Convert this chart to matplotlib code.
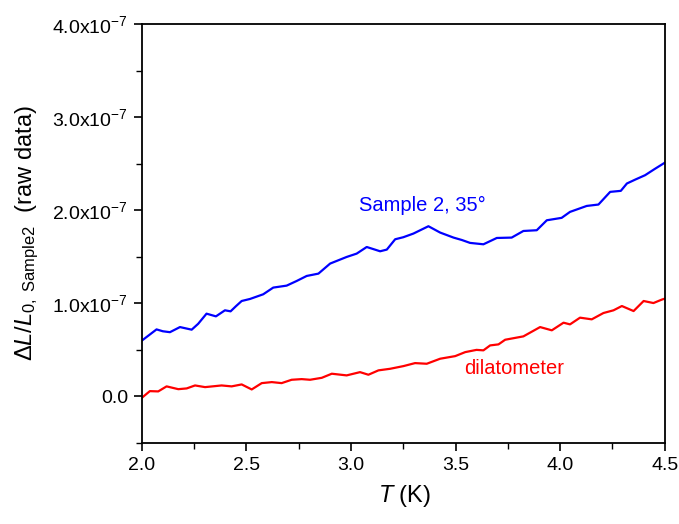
import matplotlib
matplotlib.use("Agg")
import matplotlib.pyplot as plt
from matplotlib.ticker import MultipleLocator, FixedLocator, FixedFormatter

plt.rcParams['font.family'] = ['Liberation Sans', 'DejaVu Sans']
plt.rcParams['mathtext.fontset'] = 'custom'
plt.rcParams['mathtext.rm'] = 'Liberation Sans'
plt.rcParams['mathtext.it'] = 'Liberation Sans:italic'
plt.rcParams['mathtext.bf'] = 'Liberation Sans:bold'

# Sample 2, 35 deg (units of 1e-7)
blue_T = [2.000, 2.035, 2.070, 2.100, 2.134, 2.182, 2.238, 2.269, 2.309, 2.354,
          2.397, 2.424, 2.450, 2.477, 2.517, 2.580, 2.628, 2.692, 2.740, 2.788,
          2.844, 2.900, 2.979, 3.027, 3.075, 3.110, 3.139, 3.171, 3.211, 3.250,
          3.298, 3.370, 3.426, 3.490, 3.530, 3.569, 3.633, 3.697, 3.768, 3.824,
          3.888, 3.936, 4.007, 4.047, 4.127, 4.183, 4.239, 4.290, 4.319, 4.360,
          4.406, 4.450, 4.500]
blue_y = [0.60, 0.66, 0.72, 0.70, 0.69, 0.745, 0.717, 0.78, 0.889, 0.86,
          0.925, 0.914, 0.97, 1.025, 1.047, 1.097, 1.169, 1.190, 1.24, 1.294,
          1.319, 1.427, 1.498, 1.534, 1.605, 1.58, 1.559, 1.577, 1.688, 1.71,
          1.749, 1.828, 1.76, 1.706, 1.68, 1.649, 1.634, 1.702, 1.706, 1.777,
          1.785, 1.892, 1.918, 1.982, 2.046, 2.061, 2.197, 2.208, 2.287, 2.33,
          2.376, 2.44, 2.51]

# dilatometer (units of 1e-7)
red_T = [2.000, 2.038, 2.078, 2.118, 2.174, 2.214, 2.254, 2.302, 2.381, 2.429,
         2.477, 2.525, 2.573, 2.621, 2.668, 2.716, 2.764, 2.804, 2.860, 2.908,
         2.979, 3.043, 3.083, 3.131, 3.187, 3.251, 3.306, 3.362, 3.426, 3.498,
         3.546, 3.600, 3.633, 3.665, 3.705, 3.737, 3.824, 3.904, 3.960, 4.016,
         4.047, 4.095, 4.151, 4.207, 4.255, 4.295, 4.351, 4.399, 4.446, 4.486,
         4.500]
red_y = [-0.014, 0.057, 0.054, 0.108, 0.078, 0.086, 0.118, 0.10, 0.118, 0.108,
         0.129, 0.075, 0.143, 0.154, 0.143, 0.179, 0.186, 0.179, 0.20, 0.244,
         0.226, 0.261, 0.233, 0.28, 0.297, 0.326, 0.358, 0.351, 0.405, 0.433,
         0.476, 0.50, 0.495, 0.548, 0.559, 0.609, 0.645, 0.745, 0.71, 0.792,
         0.774, 0.846, 0.828, 0.896, 0.925, 0.971, 0.917, 1.025, 1.003, 1.04,
         1.05]

y_ticks = [0, 1, 2, 3, 4]
y_labels = ["0.0", r"1.0x10$^{-7}$", r"2.0x10$^{-7}$", r"3.0x10$^{-7}$", r"4.0x10$^{-7}$"]
x_ticks = [2.0, 2.5, 3.0, 3.5, 4.0, 4.5]

fig = plt.figure(figsize=(6.79, 5.24), dpi=100)
ax = fig.add_axes([0.209, 0.1546, 0.770, 0.7996])

ax.plot(blue_T, blue_y, color='#0000ff', lw=1.6)
ax.plot(red_T, red_y, color='#ff0000', lw=1.6)

ax.set_xlim(2.0, 4.5)
ax.set_ylim(-0.5, 4.0)
ax.xaxis.set_major_locator(FixedLocator(x_ticks))
ax.set_xticklabels([f"{v:.1f}" for v in x_ticks])
ax.xaxis.set_minor_locator(MultipleLocator(0.25))
ax.yaxis.set_major_locator(FixedLocator(y_ticks))
ax.yaxis.set_major_formatter(FixedFormatter(y_labels))
ax.yaxis.set_minor_locator(MultipleLocator(0.5))

ax.tick_params(which='major', direction='out', length=6, width=1.2, labelsize=14,
               top=False, right=False, pad=4)
ax.tick_params(which='minor', direction='out', length=4, width=1.0, top=False, right=False)
for s in ax.spines.values():
    s.set_linewidth(1.3)

ax.text(3.343, 2.05, "Sample 2, 35°", color='#0000ff', fontsize=14.5, ha='center', va='center')
ax.text(3.78, 0.30, "dilatometer", color='#ff0000', fontsize=14.5, ha='center', va='center')

ax.set_xlabel(r"$T$ (K)", fontsize=17)
ax.xaxis.set_label_coords(0.503, -0.095)
ax.set_ylabel(r"$\Delta L/L_{0,\ \mathrm{Sample2}}$  (raw data)", fontsize=17)
ax.yaxis.set_label_coords(-0.193, 0.50)

fig.savefig("out.png", dpi=100)
